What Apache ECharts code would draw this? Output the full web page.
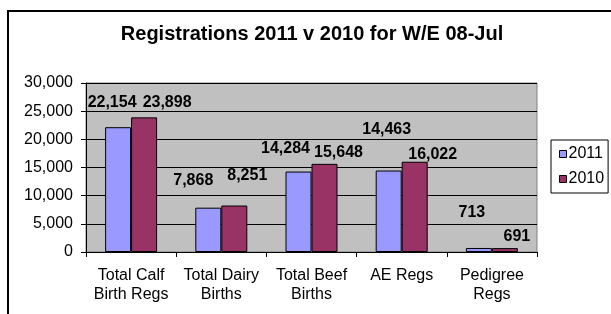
<!DOCTYPE html>
<html>
<head>
<meta charset="utf-8">
<script src="https://cdn.jsdelivr.net/npm/echarts@6/dist/echarts.min.js"></script>
<style>
  html, body { margin: 0; padding: 0; background: #fff; }
  #chart { width: 611px; height: 314px; }
</style>
</head>
<body>
<div id="chart"></div>
<script>
// data
var categories = ['Total Calf\nBirth Regs', 'Total Dairy\nBirths', 'Total Beef\nBirths', 'AE Regs', 'Pedigree\nRegs'];
var regs2011 = [22154, 7868, 14284, 14463, 713];
var regs2010 = [23898, 8251, 15648, 16022, 691];
var yTicks = [0, 5000, 10000, 15000, 20000, 25000, 30000];

// label nudges (Excel put the value labels in odd places)
var shift2011 = [[-6, -17], [-15, -19], [-13, -15], [-2, -33], [-7, -27]];
var shift2010 = [[23, -7], [13, -22], [14, -3], [18, 1], [12, -4]];

var font = "'Liberation Sans', Arial, sans-serif";

function withLabels(values, shifts) {
  return values.map(function (v, i) {
    return { value: v, label: { offset: shifts[i] } };
  });
}

function fmt(v) {
  return String(v).replace(/\B(?=(\d{3})+(?!\d))/g, ',');
}

var myChart = echarts.init(document.getElementById('chart'));
myChart.setOption({
  animation: false,
  textStyle: { fontFamily: font },
  title: {
    text: 'Registrations 2011 v 2010 for W/E 08-Jul',
    left: 312,
    top: 24,
    textAlign: 'center',
    padding: 0,
    textStyle: { fontFamily: font, fontSize: 20, fontWeight: 'bold', color: '#000' }
  },
  graphic: [{
    type: 'rect',
    shape: { x: 8, y: 11, width: 700, height: 400 },
    style: { fill: 'none', stroke: '#000', lineWidth: 2 },
    silent: true
  }],
  legend: {
    orient: 'vertical',
    left: 551,
    top: 140,
    data: ['2011', '2010'],
    icon: 'rect',
    itemWidth: 7,
    itemHeight: 7,
    itemGap: 9,
    padding: [6, 4, 6, 8],
    borderColor: '#000',
    borderWidth: 1,
    backgroundColor: '#fff',
    itemStyle: { borderColor: '#000', borderWidth: 1 },
    textStyle: { fontFamily: font, fontSize: 16, color: '#000', lineHeight: 16, padding: [0, 0, 0, -3] }
  },
  grid: {
    left: 86,
    right: 74,
    top: 83,
    bottom: 62,
    show: true,
    backgroundColor: '#c0c0c0',
    borderColor: '#808080',
    borderWidth: 1
  },
  xAxis: {
    type: 'category',
    data: categories,
    axisLine: { lineStyle: { color: '#000', width: 1 } },
    axisTick: { show: true, length: 5, lineStyle: { color: '#000' } },
    axisLabel: { color: '#000', fontSize: 16, lineHeight: 19, margin: 14, interval: 0, fontFamily: font }
  },
  yAxis: {
    type: 'value',
    min: yTicks[0],
    max: yTicks[yTicks.length - 1],
    interval: yTicks[1] - yTicks[0],
    axisLine: { show: true, lineStyle: { color: '#000', width: 1 } },
    axisTick: { show: true, length: 5, lineStyle: { color: '#000' } },
    axisLabel: { color: '#000', fontSize: 16, margin: 13, fontFamily: font, formatter: fmt },
    splitLine: { lineStyle: { color: '#000', width: 1 } }
  },
  series: [
    {
      name: '2011',
      type: 'bar',
      data: withLabels(regs2011, shift2011),
      barWidth: 26,
      barGap: '0%',
      itemStyle: { color: '#9999ff', borderColor: '#000', borderWidth: 1 },
      label: {
        show: true, position: 'top', distance: 0, color: '#000',
        fontSize: 16, fontWeight: 'bold', fontFamily: font,
        formatter: function (p) { return fmt(p.value); }
      }
    },
    {
      name: '2010',
      type: 'bar',
      data: withLabels(regs2010, shift2010),
      barWidth: 26,
      barGap: '0%',
      itemStyle: { color: '#993366', borderColor: '#000', borderWidth: 1 },
      label: {
        show: true, position: 'top', distance: 0, color: '#000',
        fontSize: 16, fontWeight: 'bold', fontFamily: font,
        formatter: function (p) { return fmt(p.value); }
      }
    }
  ]
});
</script>
</body>
</html>
